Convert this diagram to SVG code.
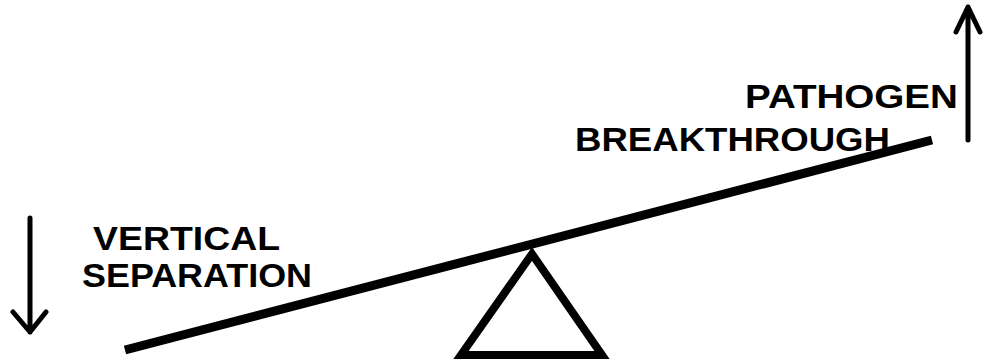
<svg xmlns="http://www.w3.org/2000/svg" width="989" height="364" viewBox="0 0 989 364">
<style>
.t{font-family:"Liberation Sans",Arial,sans-serif;font-weight:bold;font-size:34px;fill:#000}
.l{stroke:#000;fill:none;stroke-linecap:butt}
.a{stroke:#000;fill:none;stroke-width:5;stroke-linejoin:round;stroke-linecap:round}
</style>
<rect width="989" height="364" fill="#fff"/>
<g id="beam"><line class="l" x1="125" y1="350" x2="932" y2="140" stroke-width="9"/></g>
<g id="fulcrum"><polygon class="l" points="532,254 461,355 602,355" stroke-width="8" stroke-linejoin="miter"/></g>
<g id="labels">
<text class="t" x="93" y="250" textLength="187" lengthAdjust="spacingAndGlyphs">VERTICAL</text>
<text class="t" x="82" y="287" textLength="230" lengthAdjust="spacingAndGlyphs">SEPARATION</text>
<text class="t" x="745" y="108" textLength="213" lengthAdjust="spacingAndGlyphs">PATHOGEN</text>
<text class="t" x="575" y="151" textLength="315" lengthAdjust="spacingAndGlyphs">BREAKTHROUGH</text>
</g>
<g id="connectors">
<path class="a" d="M30 218 V332 M13 312 L30 332 L46 312"/>
<path class="a" d="M968 140 V7 M956 32 L968 7 L980 32"/>
</g>
</svg>
